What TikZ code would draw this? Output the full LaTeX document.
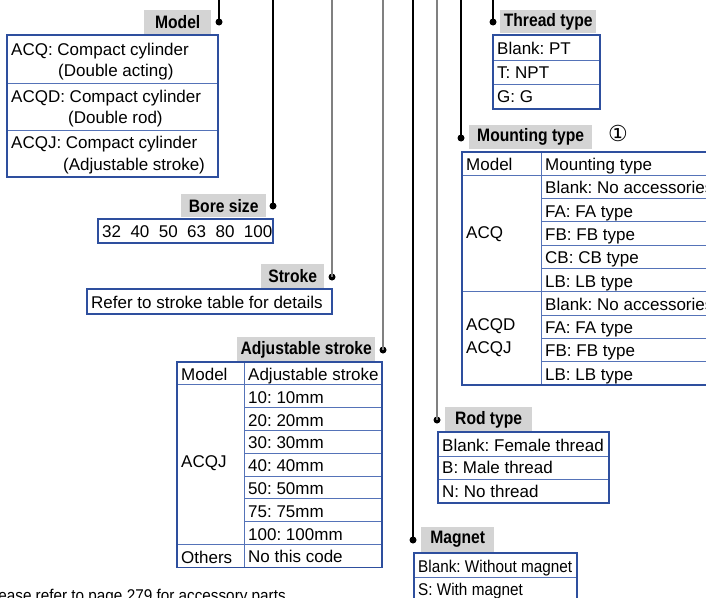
\documentclass[tikz,border=0pt]{standalone}
\usepackage{fontspec}
\setmainfont{Liberation Sans}
\newfontfamily\lblfont{Liberation Sans}[FakeStretch=0.87]
\newfontfamily\narrowfont{Liberation Sans}[FakeStretch=0.9]
\newfontfamily\symfont{DejaVu Sans}
\definecolor{tblue}{HTML}{2E4F9E}
\definecolor{rblue}{HTML}{5573B8}
\definecolor{lblgray}{HTML}{D4D4D4}
\frenchspacing

\begin{document}
\begin{tikzpicture}[x=1pt,y=-1pt,
    lbl/.style={fill=lblgray,anchor=north west,inner sep=0,
      font=\fontsize{18}{19}\selectfont\lblfont\bfseries},
    txt/.style={anchor=base west,inner sep=0,font=\fontsize{17}{20}\selectfont},
    dot/.style={circle,fill=black,inner sep=0,minimum size=7},
    wire/.style={line width=1.1},
    gwire/.style={line width=1.1,draw=black!50},
    frame/.style={draw=tblue,line width=1.4},
    rule/.style={draw=rblue,line width=0.9}]
  \useasboundingbox (0,0) rectangle (706,597);
  \clip (0,0) rectangle (706,597);

  % feed lines from the code above
  \coordinate (tmodel) at (219,0);
  \coordinate (tbore) at (273,0);
  \coordinate (tstroke) at (332,0);
  \coordinate (tadj) at (383,0);
  \coordinate (tmag) at (413,0);
  \coordinate (trod) at (437,0);
  \coordinate (tmount) at (461,0);
  \coordinate (tthread) at (493,0);
  \node[dot] (dmodel) at (219,22) {};
  \node[dot] (dbore) at (273,206) {};
  \node[dot] (dstroke) at (332,277) {};
  \node[dot] (dadj) at (383,350) {};
  \node[dot] (dmag) at (413,540) {};
  \node[dot] (drod) at (437,420) {};
  \node[dot] (dmount) at (461,138) {};
  \node[dot] (dthread) at (493,22) {};
  \draw[wire] (tmodel) -- (dmodel.center);
  \draw[wire] (tbore) -- (dbore.center);
  \draw[gwire] (tstroke) -- (dstroke.center);
  \draw[gwire] (tadj) -- (dadj.center);
  \draw[wire] (tmag) -- (dmag.center);
  \draw[gwire] (trod) -- (drod.center);
  \draw[wire] (tmount) -- (dmount.center);
  \draw[wire] (tthread) -- (dthread.center);

  % labels
  \node[lbl,minimum width=67,minimum height=24] (model) at (144,10) {Model};
  \node[lbl,minimum width=85,minimum height=23] (bore) at (181,194) {Bore size};
  \node[lbl,minimum width=63,minimum height=24] (stroke) at (261,264) {Stroke};
  \node[lbl,minimum width=138,minimum height=25] (adj) at (237,337) {Adjustable stroke};
  \node[lbl,minimum width=96,minimum height=23] (thread) at (500,10) {Thread type};
  \node[lbl,minimum width=123,minimum height=24] (mount) at (469,125) {Mounting type};
  \node[inner sep=0,font=\fontsize{22}{24}\selectfont\symfont] (note) at (618,133) {①};
  \node[lbl,minimum width=87,minimum height=25] (rod) at (445,407) {Rod type};
  \node[lbl,minimum width=73,minimum height=25] (mag) at (421,527) {Magnet};

  % model
  \draw[rule] (7,83) -- (218,83) (7,130) -- (218,130);
  \draw[frame] (7,35) rectangle (218,177);
  \node[txt] (acq) at (11,55) {ACQ: Compact cylinder};
  \node[txt] (acqb) at (58,76) {(Double acting)};
  \node[txt] (acqd) at (11,102) {ACQD: Compact cylinder};
  \node[txt] (acqdb) at (68,123) {(Double rod)};
  \node[txt] (acqj) at (11,148) {ACQJ: Compact cylinder};
  \node[txt] (acqjb) at (63,170) {(Adjustable stroke)};

  % bore size
  \draw[frame] (98,219) rectangle (273,243);
  \node[txt] (bores) at (102,237) {32\ \ 40\ \ 50\ \ 63\ \ 80\ \ 100};

  % stroke
  \draw[frame] (87,289) rectangle (332,314);
  \node[txt] (strokes) at (91,308) {Refer to stroke table for details};

  % adjustable stroke
  \foreach \k in {2,...,7}
    \draw[rule] (244,{362+\k*22.8}) -- (382,{362+\k*22.8});
  \draw[rule] (177,384.8) -- (382,384.8) (177,544.4) -- (382,544.4)
    (244,362) -- (244,567.2);
  \draw[frame] (177,362) rectangle (382,567.2);
  \node[txt] (adjm) at (181,380.5) {Model};
  \node[txt] (adjq) at (181,467) {ACQJ};
  \node[txt] (adjo) at (181,563) {Others};
  \foreach \t [count=\i from 0] in {Adjustable stroke,10: 10mm,20: 20mm,30: 30mm,
      40: 40mm,50: 50mm,75: 75mm,100: 100mm,No this code}
    \node[txt] (as\i) at (248,{362+18.5+\i*22.8}) {\t};

  % thread type
  \draw[rule] (493,60) -- (600,60) (493,84) -- (600,84);
  \draw[frame] (493,35) rectangle (600,109);
  \node[txt] (th1) at (497,54) {Blank: PT};
  \node[txt] (th2) at (497,78) {T: NPT};
  \node[txt] (th3) at (497,102) {G: G};

  % mounting type
  \foreach \k in {2,3,4,5,7,8,9}
    \draw[rule] (541,{152+\k*23.3}) -- (760,{152+\k*23.3});
  \draw[rule] (462,175.3) -- (760,175.3) (462,291.8) -- (760,291.8)
    (541,152) -- (541,385);
  \draw[frame] (462,152) rectangle (760,385);
  \node[txt] (mtm) at (466,170.5) {Model};
  \node[txt] (mtq) at (466,238) {ACQ};
  \node[txt] (mtd) at (466,330) {ACQD};
  \node[txt] (mtj) at (466,353) {ACQJ};
  \foreach \t [count=\i from 0] in {Mounting type,Blank: No accessories,FA: FA type,
      FB: FB type,CB: CB type,LB: LB type,Blank: No accessories,FA: FA type,
      FB: FB type,LB: LB type}
    \node[txt] (mt\i) at (545,{152+18.5+\i*23.3}) {\t};

  % rod type
  \draw[rule] (438,456) -- (609,456) (438,479) -- (609,479);
  \draw[frame] (438,432) rectangle (609,503);
  \node[txt] (rd1) at (442,451) {Blank: Female thread};
  \node[txt] (rd2) at (442,473) {B: Male thread};
  \node[txt] (rd3) at (442,497) {N: No thread};

  % magnet
  \draw[rule] (414,577) -- (577,577);
  \draw[frame] (414,553) rectangle (577,601);
  \node[txt,font=\fontsize{17}{20}\selectfont\narrowfont] (mg1) at (418,572) {Blank: Without magnet};
  \node[txt,font=\fontsize{17}{20}\selectfont\narrowfont] (mg2) at (418,595) {S: With magnet};

  \node[txt,anchor=base east,font=\fontsize{17}{20}\selectfont\narrowfont] (foot) at (286,601)
    {Please refer to page 279 for accessory parts};
\end{tikzpicture}
\end{document}
